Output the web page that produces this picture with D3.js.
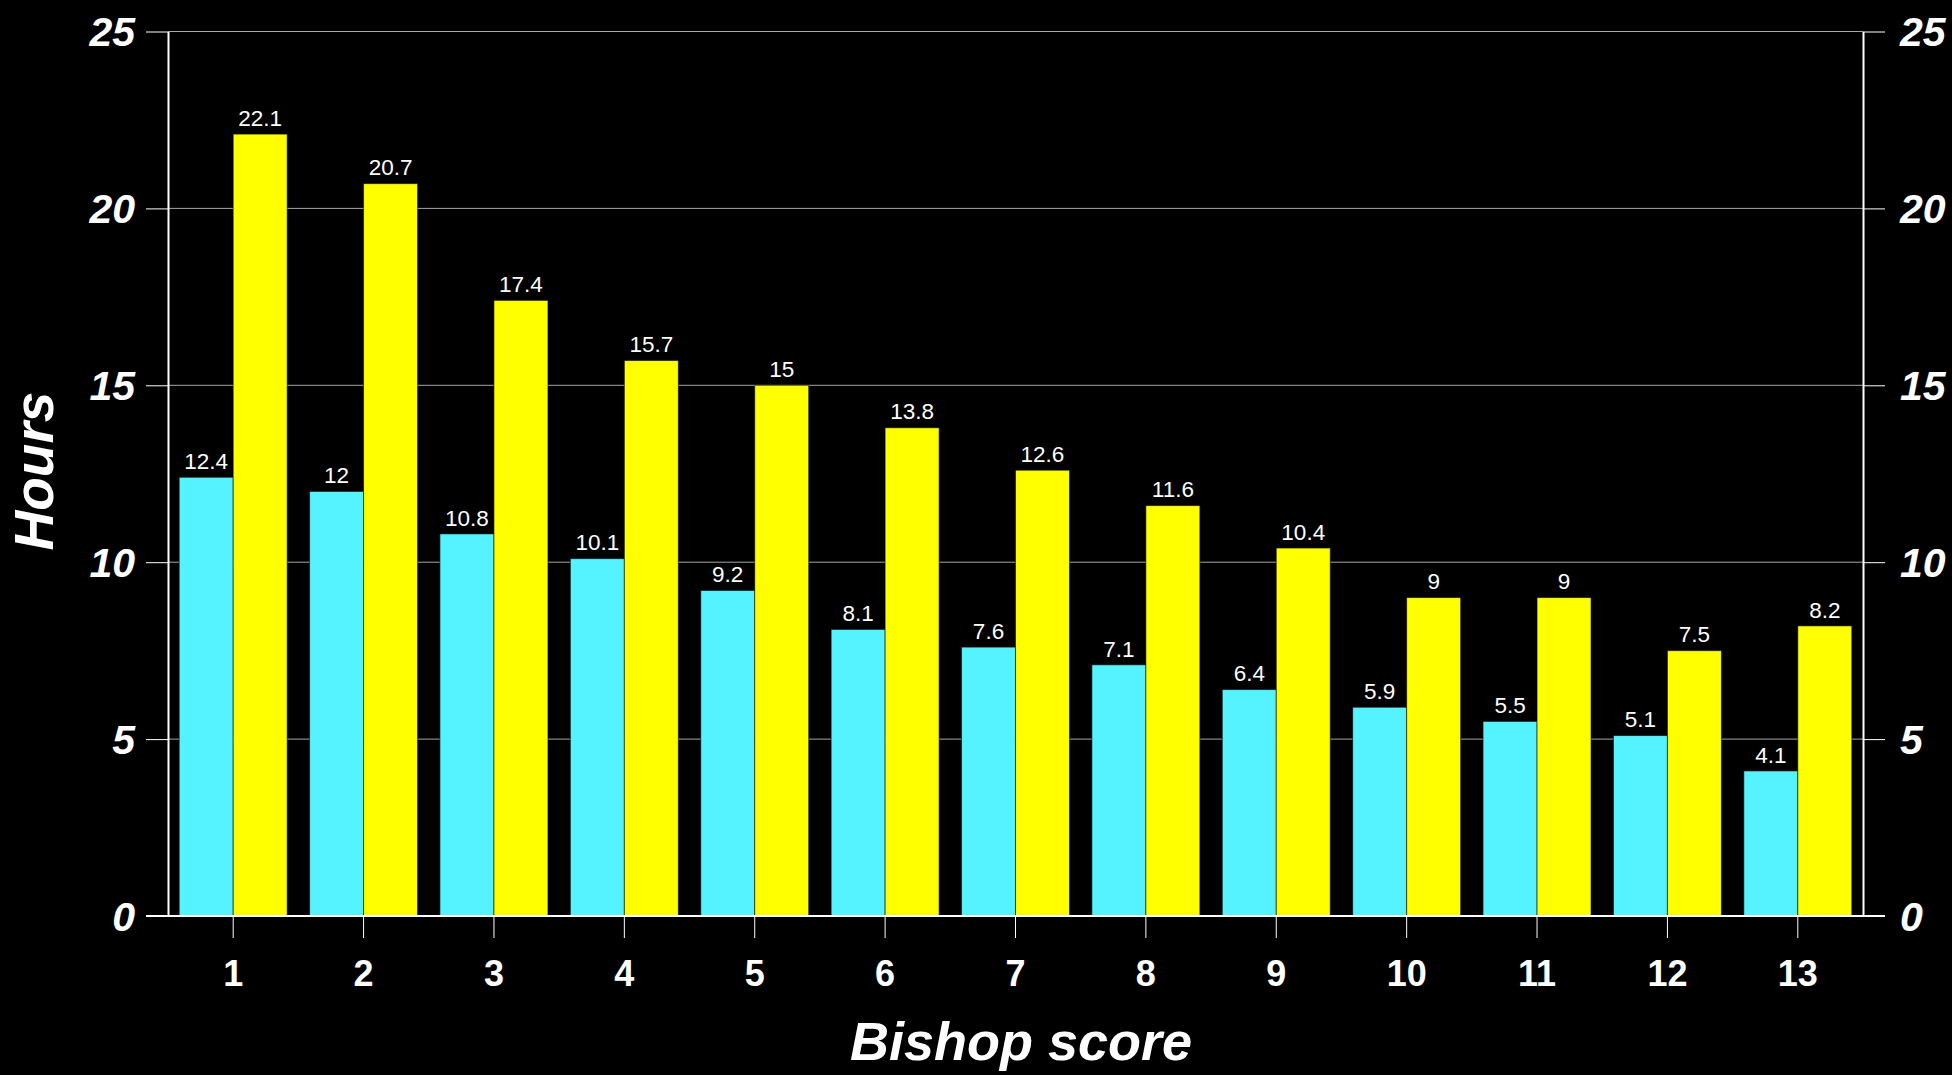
<!DOCTYPE html>
<html>
<head>
<meta charset="utf-8">
<script src="https://cdn.jsdelivr.net/npm/d3@7"></script>
<style>
  html, body { margin: 0; padding: 0; background: #000; }
  svg { display: block; }
  text { font-family: "Liberation Sans", Arial, sans-serif; fill: #fff; }
</style>
</head>
<body>
<svg id="chart" width="1952" height="1075"></svg>
<script>
// Bishop score categories and median hours for the two groups
const categories = ["1", "2", "3", "4", "5", "6", "7", "8", "9", "10", "11", "12", "13"];
const seriesNames = ["groupA", "groupB"];
const groupA = [12.4, 12, 10.8, 10.1, 9.2, 8.1, 7.6, 7.1, 6.4, 5.9, 5.5, 5.1, 4.1];
const groupB = [22.1, 20.7, 17.4, 15.7, 15, 13.8, 12.6, 11.6, 10.4, 9, 9, 7.5, 8.2];
const yTicks = [0, 5, 10, 15, 20, 25];
const colors = { groupA: "#55F3FF", groupB: "#FFFF00" };

const svg = d3.select("#chart");
const plotLeft = 168, plotRight = 1863, plotTop = 31.5, plotBottom = 916;

const x0 = d3.scaleBand().domain(categories).range([plotLeft, plotRight])
  .paddingInner(0.172).paddingOuter(0.086);
const x1 = d3.scaleBand().domain(seriesNames).range([0, x0.bandwidth()]);
const y = d3.scaleLinear().domain([0, 25]).range([plotBottom, plotTop]);

// horizontal gridlines
svg.append("g").selectAll("line").data(yTicks.filter(d => d > 0)).join("line")
  .attr("x1", plotLeft).attr("x2", plotRight)
  .attr("y1", d => y(d)).attr("y2", d => y(d))
  .attr("stroke", "#a6a6a6").attr("stroke-width", 1);

// left axis
const yLeft = svg.append("g").attr("transform", `translate(${plotLeft},0)`)
  .call(d3.axisLeft(y).tickValues(yTicks).tickSize(22).tickSizeOuter(0).tickPadding(11));
// right axis
const yRight = svg.append("g").attr("transform", `translate(${plotRight},0)`)
  .call(d3.axisRight(y).tickValues(yTicks).tickSize(22).tickSizeOuter(0).tickPadding(15));
[yLeft, yRight].forEach(g => {
  g.select(".domain").attr("stroke", "#fff").attr("stroke-width", 2);
  g.selectAll(".tick line").attr("stroke", "#fff").attr("stroke-width", 1);
  g.selectAll(".tick text")
    .attr("fill", "#fff")
    .style("font-size", "41px").style("font-weight", "bold").style("font-style", "italic")
    .attr("dy", "0.35em");
});

// bars
const rows = categories.map((c, i) => ({ cat: c, values: [
  { key: "groupA", value: groupA[i] },
  { key: "groupB", value: groupB[i] }
] }));

const groups = svg.append("g").selectAll("g").data(rows).join("g")
  .attr("transform", d => `translate(${x0(d.cat)},0)`);

groups.selectAll("rect").data(d => d.values).join("rect")
  .attr("x", d => x1(d.key))
  .attr("y", d => y(d.value))
  .attr("width", x1.bandwidth())
  .attr("height", d => y(0) - y(d.value))
  .attr("fill", d => colors[d.key])
  .attr("stroke", "rgba(0,0,0,0.55)").attr("stroke-width", 1);

groups.selectAll("text.val").data(d => d.values).join("text")
  .attr("class", "val")
  .attr("x", d => x1(d.key) + x1.bandwidth() / 2)
  .attr("y", d => y(d.value) - 8.3)
  .attr("text-anchor", "middle")
  .style("font-size", "22.5px")
  .text(d => d.value);

// bottom axis
const xAxis = svg.append("g").attr("transform", `translate(0,${plotBottom})`)
  .call(d3.axisBottom(x0).tickSize(22).tickPadding(22));
xAxis.select(".domain").remove();
xAxis.selectAll(".tick line").attr("stroke", "#fff").attr("stroke-width", 1);
xAxis.selectAll(".tick text").attr("fill", "#fff")
  .style("font-size", "36px").style("font-weight", "bold");

// baseline across the plot
svg.append("line")
  .attr("x1", plotLeft - 22).attr("x2", plotRight + 22)
  .attr("y1", y(0)).attr("y2", y(0))
  .attr("stroke", "#fff").attr("stroke-width", 2);

// axis titles
svg.append("text")
  .attr("x", 1021).attr("y", 1060)
  .attr("text-anchor", "middle")
  .style("font-size", "54px").style("font-weight", "bold").style("font-style", "italic")
  .text("Bishop score");

svg.append("text")
  .attr("transform", `translate(53,471) rotate(-90)`)
  .attr("text-anchor", "middle")
  .style("font-size", "55px").style("font-weight", "bold").style("font-style", "italic")
  .text("Hours");
</script>
</body>
</html>
